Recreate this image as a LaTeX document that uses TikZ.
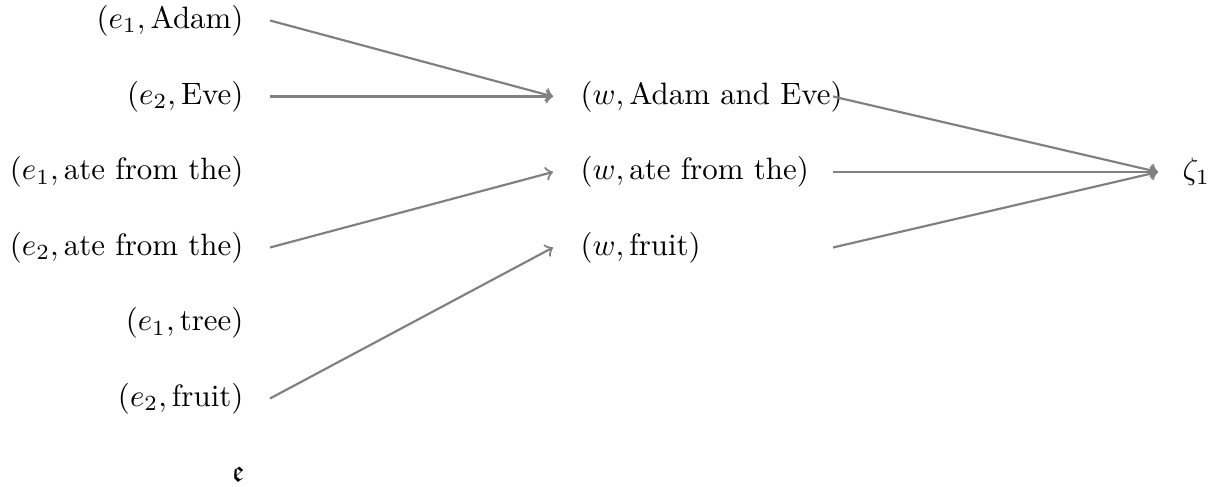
\documentclass[tikz,border=0pt]{standalone}
\usepackage{amsmath,amssymb}
\usetikzlibrary{calc}
\begin{document}
\begin{tikzpicture}[x=0.3236pt,y=-0.3236pt,
  lft/.style={anchor=east,inner sep=0pt},
  mid/.style={anchor=west,inner sep=0pt},
  arr/.style={->,draw=gray,line width=0.7pt}]
\useasboundingbox (0,0) rectangle (1229,487);
% left column
\node[lft] (l1) at (244,20.5) {$(e_1,\text{Adam})$};
\node[lft] (l2) at (244,96.5) {$(e_2,\text{Eve})$};
\node[lft] (l3) at (244,172) {$(e_1,\text{ate from the})$};
\node[lft] (l4) at (244,247.5) {$(e_2,\text{ate from the})$};
\node[lft] (l5) at (244,323) {$(e_1,\text{tree})$};
\node[lft] (l6) at (244,398.5) {$(e_2,\text{fruit})$};
\node[lft] (l7) at (245,474) {$\mathfrak{e}$};
% middle column
\node[mid] (m1) at (580,96.5) {$(w,\text{Adam and Eve})$};
\node[mid] (m2) at (580,172) {$(w,\text{ate from the})$};
\node[mid] (m3) at (580,247.5) {$(w,\text{fruit})$};
% right
\node[mid] (z) at (1182,172) {$\zeta_1$};
% arrows
\draw[arr] ($(l1.east)+(26,0)$) -- ($(m1.west)+(-27,0)$);
\draw[arr] ($(l2.east)+(26,0)$) -- ($(m1.west)+(-27,0)$);
\draw[arr] ($(l4.east)+(26,0)$) -- ($(m2.west)+(-27,0)$);
\draw[arr] ($(l6.east)+(26,0)$) -- ($(m3.west)+(-27,0)$);
\draw[arr] ($(m1.west)+(253,0)$) -- ($(z.west)+(-24,0)$);
\draw[arr] ($(m2.west)+(253,0)$) -- ($(z.west)+(-24,0)$);
\draw[arr] ($(m3.west)+(253,0)$) -- ($(z.west)+(-24,0)$);
\end{tikzpicture}
\end{document}
